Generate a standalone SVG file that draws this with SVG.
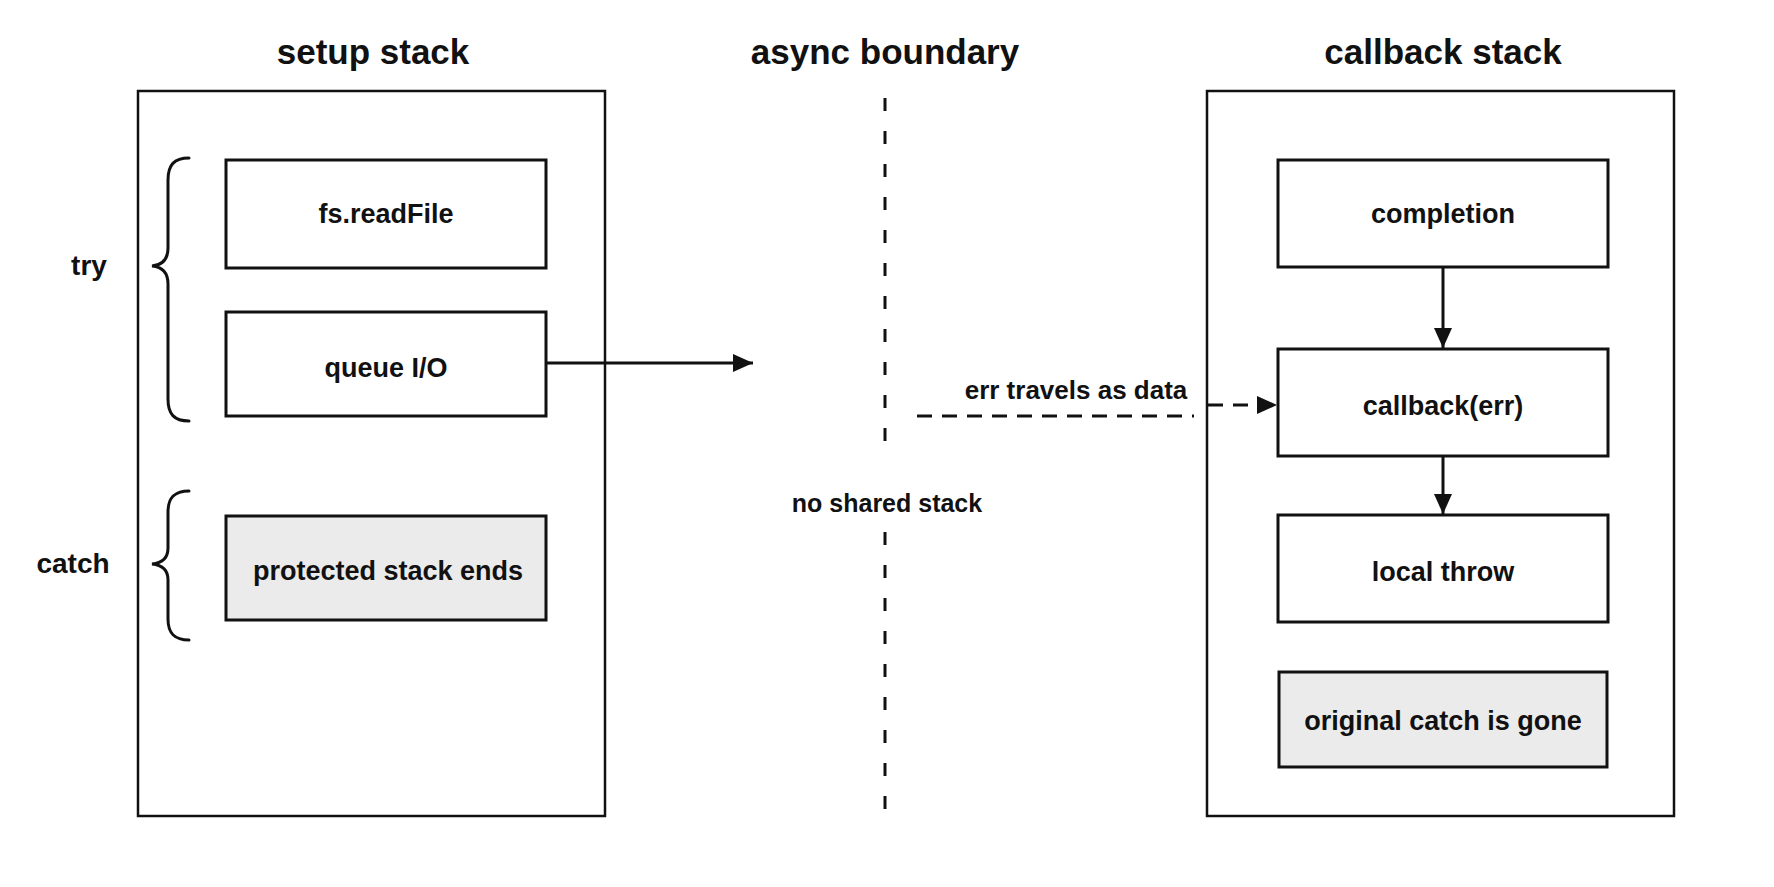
<svg xmlns="http://www.w3.org/2000/svg" width="1774" height="887" viewBox="0 0 1774 887">
<style>
.t{font-family:"Liberation Sans",Arial,sans-serif;font-weight:bold;fill:#111;text-anchor:middle}
.title{font-size:35px}
.lbl{font-size:27px}
.side{font-size:28px}
.note{font-size:25px}
.frame{fill:#fff;stroke:#111;stroke-width:2.5}
.box{fill:#fff;stroke:#111;stroke-width:3}
.gray{fill:#ebebeb}
.ln{fill:none;stroke:#111;stroke-width:3}
.dash{stroke-dasharray:15 10}
.brace{fill:none;stroke:#111;stroke-width:3;stroke-linecap:round}
</style>
<defs>
<marker id="ah" viewBox="0 0 20 18" refX="20" refY="9" markerWidth="20" markerHeight="18" markerUnits="userSpaceOnUse" orient="auto">
<path d="M0,0 L20,9 L0,18 z" fill="#111"/>
</marker>
</defs>
<rect width="1774" height="887" fill="#fff"/>

<g id="titles">
<text class="t title" x="373" y="64">setup stack</text>
<text class="t title" x="885" y="64">async boundary</text>
<text class="t title" x="1443" y="64">callback stack</text>
</g>

<g id="setup-stack">
<rect class="frame" x="138" y="91" width="467" height="725"/>
</g>

<g id="callback-stack">
<rect class="frame" x="1207" y="91" width="467" height="725"/>
</g>

<g id="try-brace">
<path class="brace" d="M189,158 C174,158 168,165 168,180 L168,248 C168,259 163,265 152,266 C163,267 168,273 168,284 L168,399 C168,414 174,421 189,421"/>
<text class="t side" x="89" y="275">try</text>
</g>

<g id="catch-brace">
<path class="brace" d="M189,491 C174,491 168,498 168,512 L168,548 C168,558 163,563 152,564 C163,565 168,570 168,580 L168,619 C168,633 174,640 189,640"/>
<text class="t side" x="73" y="573">catch</text>
</g>

<g id="fs-readfile">
<rect class="box" x="226" y="160" width="320" height="108"/>
<text class="t lbl" x="386" y="223">fs.readFile</text>
</g>

<g id="queue-io">
<rect class="box" x="226" y="312" width="320" height="104"/>
<text class="t lbl" x="386" y="377">queue I/O</text>
</g>

<g id="protected-stack-ends">
<rect class="box gray" x="226" y="516" width="320" height="104"/>
<text class="t lbl" x="388" y="580">protected stack ends</text>
</g>

<g id="async-boundary">
<path class="ln" d="M885,98 L885,452" stroke-dasharray="13 20"/>
<path class="ln" d="M885,532 L885,816" stroke-dasharray="13 20"/>
<text class="t note" x="887" y="512">no shared stack</text>
</g>

<g id="completion">
<rect class="box" x="1278" y="160" width="330" height="107"/>
<text class="t lbl" x="1443" y="223">completion</text>
</g>

<g id="callback-err">
<rect class="box" x="1278" y="349" width="330" height="107"/>
<text class="t lbl" x="1443" y="415">callback(err)</text>
</g>

<g id="local-throw">
<rect class="box" x="1278" y="515" width="330" height="107"/>
<text class="t lbl" x="1443" y="581">local throw</text>
</g>

<g id="original-catch-gone">
<rect class="box gray" x="1279" y="672" width="328" height="95"/>
<text class="t lbl" x="1443" y="730">original catch is gone</text>
</g>

<g id="connectors">
<line class="ln" x1="546" y1="363" x2="753" y2="363" marker-end="url(#ah)"/>
<line class="ln dash" x1="917" y1="416" x2="1194" y2="416"/>
<text class="t note" x="1076" y="399" style="font-size:26px">err travels as data</text>
<line class="ln dash" x1="1208" y1="405" x2="1277" y2="405" marker-end="url(#ah)"/>
<line class="ln" x1="1443" y1="267" x2="1443" y2="348" marker-end="url(#ah)"/>
<line class="ln" x1="1443" y1="456" x2="1443" y2="514" marker-end="url(#ah)"/>
</g>
</svg>
